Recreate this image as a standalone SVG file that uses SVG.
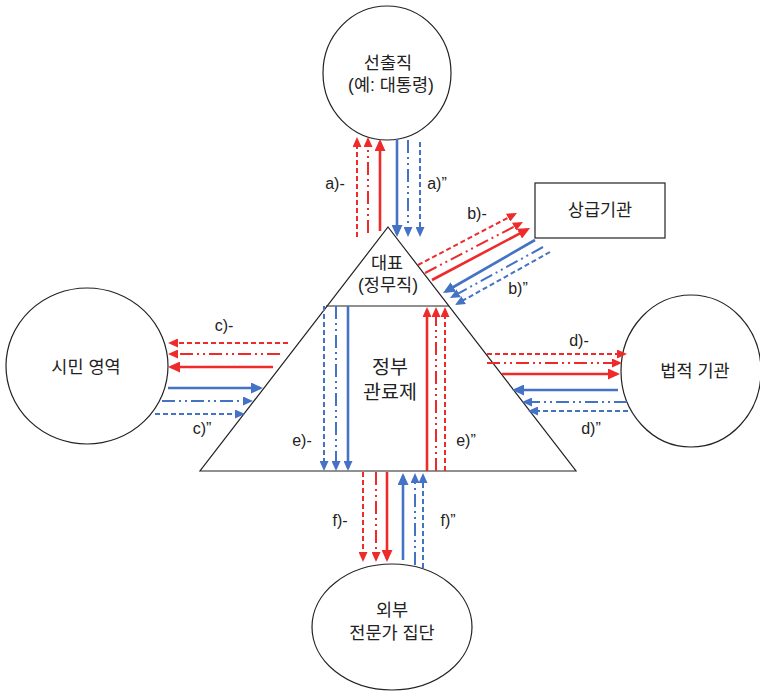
<svg xmlns="http://www.w3.org/2000/svg" width="760" height="691" viewBox="0 0 760 691">
<style>
.shape{fill:#fff;stroke:#222;stroke-width:1.2}
.ko{font-family:"Liberation Sans","Noto Sans CJK KR",sans-serif;fill:#222;text-anchor:middle;font-size:17.5px}
.lbl{font-family:"Liberation Sans",Arial,sans-serif;font-size:16px;fill:#222;text-anchor:middle}
.r{stroke:#ee2a2a;fill:none}
.b{stroke:#4472c4;fill:none}
.s{stroke-width:2.6}
.d{stroke-width:2;stroke-dasharray:5 3}
.dd{stroke-width:2;stroke-dasharray:13 4 2 4 2 4}
</style>
<defs>
<marker id="rB" markerUnits="userSpaceOnUse" markerWidth="13" markerHeight="11" refX="9" refY="5.5" orient="auto"><path d="M0,0 L12,5.5 L0,11 z" fill="#ee2a2a"/></marker>
<marker id="rS" markerUnits="userSpaceOnUse" markerWidth="11" markerHeight="9" refX="7" refY="4.5" orient="auto"><path d="M0,0 L10,4.5 L0,9 z" fill="#ee2a2a"/></marker>
<marker id="bB" markerUnits="userSpaceOnUse" markerWidth="13" markerHeight="11" refX="9" refY="5.5" orient="auto"><path d="M0,0 L12,5.5 L0,11 z" fill="#4472c4"/></marker>
<marker id="bS" markerUnits="userSpaceOnUse" markerWidth="11" markerHeight="9" refX="7" refY="4.5" orient="auto"><path d="M0,0 L10,4.5 L0,9 z" fill="#4472c4"/></marker>
</defs>
<rect width="760" height="691" fill="#fff"/>

<g id="node-elected">
<ellipse class="shape" cx="387" cy="73" rx="64" ry="67"/>
<text class="ko" x="388" y="69">선출직</text>
<text class="ko" x="391" y="91">(예: 대통령)</text>
</g>

<g id="node-superior">
<rect class="shape" x="535" y="183" width="130" height="55"/>
<text class="ko" x="600" y="216">상급기관</text>
</g>

<g id="node-citizen">
<ellipse class="shape" cx="87" cy="366" rx="81" ry="78"/>
<text class="ko" x="86" y="373">시민 영역</text>
</g>

<g id="node-legal">
<ellipse class="shape" cx="691" cy="371" rx="70" ry="76"/>
<text class="ko" x="695" y="377">법적 기관</text>
</g>

<g id="node-experts">
<ellipse class="shape" cx="392" cy="627" rx="80" ry="63"/>
<text class="ko" x="392" y="616">외부</text>
<text class="ko" x="392" y="639">전문가 집단</text>
</g>

<g id="node-pyramid">
<polygon class="shape" points="388,227 576,471 200,471"/>
<line x1="326" y1="306" x2="449" y2="306" stroke="#222" stroke-width="1.2"/>
</g>

<g id="node-representative">
<text class="ko" x="387" y="269">대표</text>
<text class="ko" x="388" y="291">(정무직)</text>
</g>

<g id="node-bureaucracy">
<text class="ko" x="390" y="374" style="font-size:19.5px">정부</text>
<text class="ko" x="390" y="399" style="font-size:19.5px">관료제</text>
</g>

<g id="connectors">
<!-- a -->
<line class="r d" x1="357" y1="237" x2="357" y2="140" marker-end="url(#rS)"/>
<line class="r dd" x1="368" y1="233" x2="368" y2="140" marker-end="url(#rS)"/>
<line class="r s" x1="380" y1="231" x2="380" y2="142" marker-end="url(#rB)"/>
<line class="b s" x1="397" y1="139" x2="397" y2="234" marker-end="url(#bB)"/>
<line class="b dd" x1="408" y1="140" x2="408" y2="234" marker-end="url(#bS)"/>
<line class="b d" x1="420" y1="142" x2="420" y2="234" marker-end="url(#bS)"/>
<!-- b -->
<line class="r d" x1="418" y1="265" x2="514.3" y2="214.4" marker-end="url(#rS)"/>
<line class="r dd" x1="425" y1="273" x2="520.3" y2="223.4" marker-end="url(#rS)"/>
<line class="r s" x1="432" y1="280" x2="527.4" y2="229.4" marker-end="url(#rB)"/>
<line class="b s" x1="535" y1="240" x2="445.6" y2="291.5" marker-end="url(#bB)"/>
<line class="b dd" x1="543" y1="247" x2="452.6" y2="296.6" marker-end="url(#bS)"/>
<line class="b d" x1="550" y1="252" x2="457.6" y2="303.5" marker-end="url(#bS)"/>
<!-- c -->
<line class="r d" x1="288" y1="343" x2="171" y2="343" marker-end="url(#rS)"/>
<line class="r dd" x1="280" y1="354" x2="171" y2="354" marker-end="url(#rS)"/>
<line class="r s" x1="273" y1="367" x2="171" y2="367" marker-end="url(#rB)"/>
<line class="b s" x1="168" y1="388" x2="260" y2="388" marker-end="url(#bB)"/>
<line class="b dd" x1="162" y1="401" x2="250" y2="401" marker-end="url(#bS)"/>
<line class="b d" x1="155" y1="414" x2="242" y2="414" marker-end="url(#bS)"/>
<!-- d -->
<line class="r d" x1="487" y1="354" x2="624" y2="354" marker-end="url(#rS)"/>
<line class="r dd" x1="487" y1="363" x2="619" y2="363" marker-end="url(#rS)"/>
<line class="r s" x1="502" y1="374" x2="617" y2="374" marker-end="url(#rB)"/>
<line class="b s" x1="618" y1="390" x2="515" y2="390" marker-end="url(#bB)"/>
<line class="b dd" x1="627" y1="402" x2="525" y2="402" marker-end="url(#bS)"/>
<line class="b d" x1="628" y1="411" x2="531" y2="411" marker-end="url(#bS)"/>
<!-- e -->
<line class="b d" x1="324" y1="306" x2="324" y2="468" marker-end="url(#bS)"/>
<line class="b dd" x1="336" y1="306" x2="336" y2="468" marker-end="url(#bS)"/>
<line class="b s" x1="348" y1="306" x2="348" y2="468" marker-end="url(#bS)"/>
<line class="r s" x1="427" y1="471" x2="427" y2="310" marker-end="url(#rS)"/>
<line class="r dd" x1="436" y1="471" x2="436" y2="310" marker-end="url(#rS)"/>
<line class="r d" x1="445" y1="471" x2="445" y2="310" marker-end="url(#rS)"/>
<!-- f -->
<line class="r d" x1="363" y1="472" x2="363" y2="559" marker-end="url(#rS)"/>
<line class="r dd" x1="376" y1="472" x2="376" y2="559" marker-end="url(#rS)"/>
<line class="r s" x1="387" y1="472" x2="387" y2="559" marker-end="url(#rB)"/>
<line class="b s" x1="403" y1="560" x2="403" y2="476" marker-end="url(#bB)"/>
<line class="b dd" x1="415" y1="565" x2="415" y2="476" marker-end="url(#bS)"/>
<line class="b d" x1="423" y1="568" x2="423" y2="476" marker-end="url(#bS)"/>
</g>

<g id="labels">
<text class="lbl" x="335" y="189">a)-</text>
<text class="lbl" x="437" y="189">a)”</text>
<text class="lbl" x="477" y="219">b)-</text>
<text class="lbl" x="518" y="294">b)”</text>
<text class="lbl" x="224" y="331">c)-</text>
<text class="lbl" x="202" y="434">c)”</text>
<text class="lbl" x="579" y="346">d)-</text>
<text class="lbl" x="591" y="434">d)”</text>
<text class="lbl" x="302" y="446">e)-</text>
<text class="lbl" x="466" y="446">e)”</text>
<text class="lbl" x="340" y="526">f)-</text>
<text class="lbl" x="448" y="526">f)”</text>
</g>
</svg>
